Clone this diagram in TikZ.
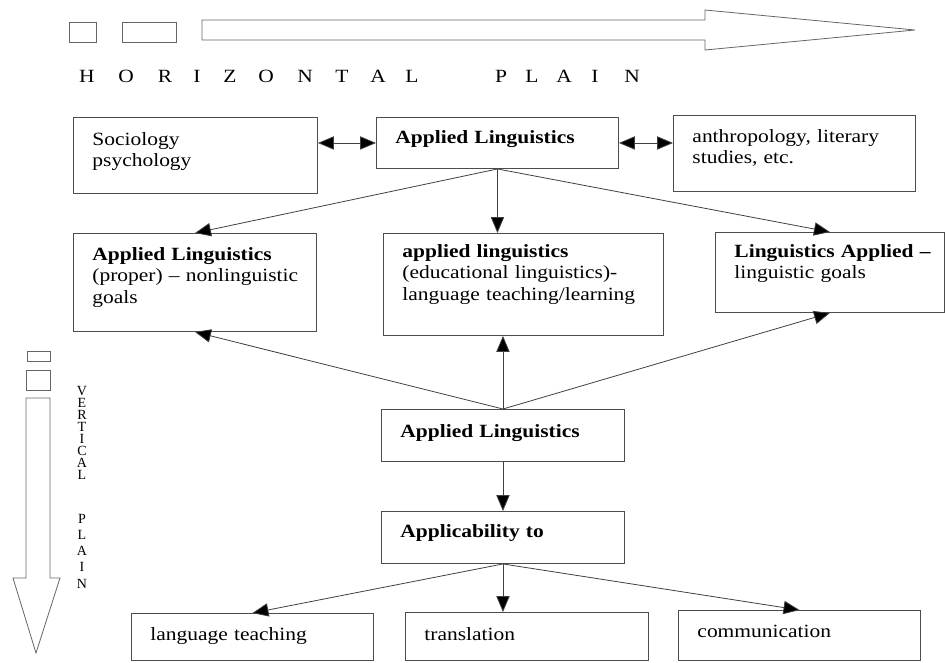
\documentclass[tikz,border=0pt]{standalone}
\usepackage{fontspec}
\setmainfont{Liberation Serif}[FakeStretch=1.15]
\newfontfamily\vertfont{Liberation Serif}
\usepackage{tikz}
\usetikzlibrary{arrows.meta}
\newcommand\boxfont{\fontsize{14pt}{16pt}\selectfont}

\begin{document}
\begin{tikzpicture}[x=0.75pt, y=-0.75pt,
    box/.style={draw=black!70, line width=0.7pt, anchor=north west, inner xsep=14.25pt,
                inner ysep=0pt, align=left, font=\boxfont},
    arrow/.style={draw=black!75, line width=0.6pt, -{Triangle[length=12pt, width=10pt, fill=black]}},
    darrow/.style={arrow, {Triangle[length=12pt, width=10pt, fill=black]}-{Triangle[length=12pt, width=10pt, fill=black]}},
    plain/.style={draw=black!60, line width=0.6pt}]

\useasboundingbox (0,0) rectangle (945,662);

% Horizontal plain
\draw[plain] (69,22) rectangle (96,42);
\draw[plain] (122,22) rectangle (176,42);
\draw[plain] (202,20) -- (705,20) -- (705,10) -- (915,30) -- (705,50) -- (705,40) -- (202,40) -- cycle;
\foreach \c/\x in {H/87,O/126,R/165,I/197,Z/230,O/266,N/305,T/342,A/378,L/412,P/501,L/532,A/564,I/595,N/632}
    \node[anchor=base, font=\boxfont, inner sep=0pt] (hl-\x) at (\x,82) {\c};

% Vertical plain
\draw[plain] (27,351) rectangle (50,361);
\draw[plain] (26,370) rectangle (50,390);
\draw[plain] (26,398) -- (26,578) -- (13,578) -- (36,653) -- (60,578) -- (50,578) -- (50,398) -- cycle;
\foreach \c/\y in {V/391,E/403,R/415,T/427,I/439,C/451,A/463,L/475,P/519,L/535,A/551,I/567,N/584}
    \node[font=\vertfont\fontsize{10.5pt}{10.5pt}\selectfont, inner sep=0pt] (vl-\y) at (82,\y) {\c};

% Top row
\node (soc) [box, text width=154.5pt, text height=21pt, text depth=36pt] at (73,117)
    {Sociology\\psychology};
\node (altop) [box, text width=153pt, text height=19.5pt, text depth=18.75pt] at (376,117)
    {\textbf{Applied Linguistics}};
\node (anth) [box, text width=153pt, text height=20.25pt, text depth=36.75pt] at (673,115)
    {anthropology, literary\\studies, etc.};

% Middle row
\node (proper) [box, text width=153.75pt, text height=20.25pt, text depth=53.25pt] at (73,233)
    {\textbf{Applied Linguistics}\\\mbox{(proper) -- nonlinguistic}\\goals};
\node (edu) [box, text width=181.5pt, text height=18pt, text depth=58.5pt] at (383,233)
    {\textbf{applied linguistics}\\\mbox{(educational linguistics)-}\\\mbox{language teaching/learning}};
\node (lingapp) [box, text width=143.25pt, text height=18.75pt, text depth=41.25pt] at (715,232)
    {\mbox{\textbf{Linguistics Applied --}}\\linguistic goals};

% Lower column
\node (albot) [box, text width=153.75pt, text height=21pt, text depth=18pt] at (381,409)
    {\textbf{Applied Linguistics}};
\node (appl) [box, text width=153.75pt, text height=19.5pt, text depth=19.5pt] at (381,511)
    {\textbf{Applicability to}};

% Bottom row
\node (lteach) [box, text width=153pt, text height=20.25pt, text depth=15pt] at (131,613)
    {language teaching};
\node (transl) [box, text width=153.75pt, text height=21pt, text depth=15pt] at (405,612)
    {translation};
\node (comm) [box, text width=153pt, text height=20.25pt, text depth=17.25pt] at (678,610)
    {communication};

% Arrows -- neighbouring fields
\draw[darrow] (soc.east |- altop.west) -- (altop.west);
\draw[darrow] (altop.east) -- (altop.east -| anth.west);
% Applied linguistics to its branches
\draw[arrow] (altop.south) -- (proper.north);
\draw[arrow] (altop.south) -- (altop.south |- edu.north);
\draw[arrow] (altop.south) -- (lingapp.north);
\draw[arrow] (albot.north) -- (proper.south);
\draw[arrow] (albot.north) -- (albot.north |- edu.south);
\draw[arrow] (albot.north) -- (lingapp.south);
% Applicability
\draw[arrow] (albot.south) -- (appl.north);
\draw[arrow] (appl.south) -- (lteach.north);
\draw[arrow] (appl.south) -- (appl.south |- transl.north);
\draw[arrow] (appl.south) -- (comm.north);
\end{tikzpicture}
\end{document}
